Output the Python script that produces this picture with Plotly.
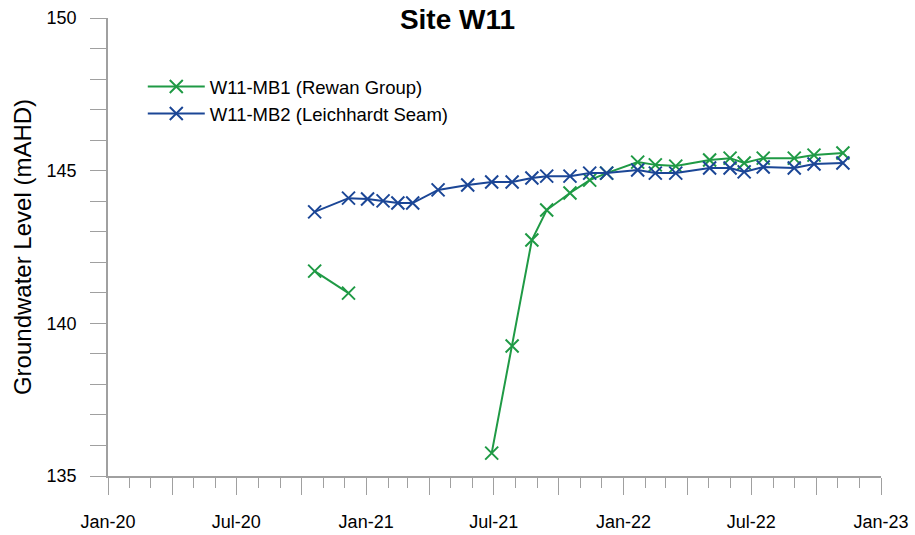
import plotly.graph_objects as go

dates = ["2020-10-20", "2020-12-07", "2021-01-03", "2021-01-25", "2021-02-15", "2021-03-08",
         "2021-04-13", "2021-05-25", "2021-06-28", "2021-07-27", "2021-08-24", "2021-09-14",
         "2021-10-17", "2021-11-14", "2021-12-08", "2022-01-21", "2022-02-15", "2022-03-16",
         "2022-05-03", "2022-06-01", "2022-06-21", "2022-07-18", "2022-08-31", "2022-09-28",
         "2022-11-08"]
mb1_rewan = [141.71, 140.99, None, None, None, None, None, None, 135.75, 139.26, 142.73, 143.71,
             144.27, 144.69, 144.92, 145.28, 145.19, 145.15, 145.35, 145.41, 145.25, 145.41,
             145.41, 145.51, 145.58]
mb2_leichhardt = [143.65, 144.10, 144.07, 144.01, 143.94, 143.94, 144.37, 144.53, 144.63, 144.63,
                  144.76, 144.82, 144.82, 144.92, 144.92, 145.02, 144.92, 144.92, 145.09, 145.09,
                  144.96, 145.12, 145.09, 145.22, 145.25]

tick_vals = ["2020-01-01", "2020-04-01", "2020-07-01", "2020-10-01", "2021-01-01", "2021-04-01",
             "2021-07-01", "2021-10-01", "2022-01-01", "2022-04-01", "2022-07-01", "2022-10-01",
             "2023-01-01"]
tick_text = ["Jan-20", "", "Jul-20", "", "Jan-21", "", "Jul-21", "", "Jan-22", "", "Jul-22", "",
             "Jan-23"]

GREEN = "#1F9A45"
BLUE = "#1B4696"
AXIS = "#A0A0A0"
FONT = "Arial, Liberation Sans, sans-serif"

fig = go.Figure()
fig.add_trace(go.Scatter(
    x=dates, y=mb1_rewan, name="W11-MB1 (Rewan Group)", mode="lines+markers",
    connectgaps=False,
    line=dict(color=GREEN, width=2),
    marker=dict(symbol="x-thin", size=13, line=dict(color=GREEN, width=2)),
))
fig.add_trace(go.Scatter(
    x=dates, y=mb2_leichhardt, name="W11-MB2 (Leichhardt Seam)", mode="lines+markers",
    line=dict(color=BLUE, width=2),
    marker=dict(symbol="x-thin", size=13, line=dict(color=BLUE, width=2)),
))

fig.update_layout(
    width=915, height=535,
    margin=dict(l=108, r=34, t=18, b=59, autoexpand=False),
    paper_bgcolor="white", plot_bgcolor="white",
    font=dict(family=FONT, size=18, color="black"),
    title=dict(text="<b>Site W11</b>", x=0.5, xref="container", xanchor="center",
               y=1 - 19 / 535, yref="container", yanchor="middle",
               font=dict(family=FONT, size=28, color="black")),
    legend=dict(x=0.045, y=0.891, xanchor="left", yanchor="top",
                bgcolor="rgba(0,0,0,0)", font=dict(family=FONT, size=18.5),
                itemwidth=57, tracegroupgap=0),
    showlegend=True,
)

fig.update_xaxes(
    type="date", range=["2020-01-01", "2023-01-01"], automargin=False,
    tickmode="array", tickvals=tick_vals, ticktext=tick_text,
    ticks="outside", ticklen=17, tickwidth=1, tickcolor=AXIS,
    ticklabelstandoff=12,
    minor=dict(dtick="M1", tick0="2020-01-01", ticks="outside", ticklen=10,
               tickwidth=1, tickcolor=AXIS, showgrid=False),
    showline=True, linecolor=AXIS, linewidth=1.5,
    showgrid=False, zeroline=False,
    tickfont=dict(family=FONT, size=18, color="black"),
)
fig.update_yaxes(
    range=[135, 150], tickmode="linear", tick0=135, dtick=5, automargin=False,
    ticks="outside", ticklen=16, tickwidth=1, tickcolor=AXIS,
    ticklabelstandoff=10,
    minor=dict(dtick=1, tick0=135, ticks="outside", ticklen=16, tickwidth=1,
               tickcolor=AXIS, showgrid=False),
    showline=True, linecolor=AXIS, linewidth=1.5,
    showgrid=False, zeroline=False,
    tickfont=dict(family=FONT, size=18, color="black"),
    title=dict(text="Groundwater Level (mAHD)", standoff=8,
               font=dict(family=FONT, size=24, color="black")),
)

fig.write_html("out.html")
